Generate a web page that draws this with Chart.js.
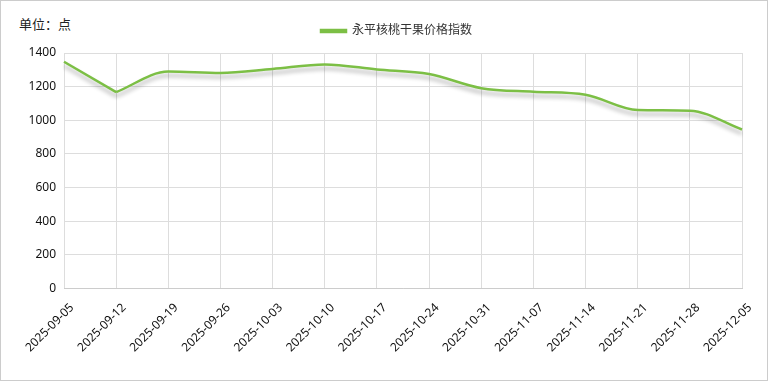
<!DOCTYPE html>
<html>
<head>
<meta charset="utf-8">
<script src="https://cdn.jsdelivr.net/npm/chart.js@4"></script>
<style>
  html, body { margin: 0; padding: 0; background: #fff; }
  #box { position: absolute; left: 0; top: 0; width: 766px; height: 379px; border: 1px solid #ccc; }
  #unit { position: absolute; left: 18px; top: 13px; font: 13px "Noto Sans CJK SC", sans-serif; color: #222; }
  #wrap { position: absolute; left: 0; top: 0; width: 766px; height: 379px; }
</style>
</head>
<body>
<div id="box">
  <div id="unit">单位：点</div>
  <div id="wrap"><canvas id="chart"></canvas></div>
</div>
<script>
// 数据
const categories = ['2025-09-05', '2025-09-12', '2025-09-19', '2025-09-26', '2025-10-03', '2025-10-10', '2025-10-17',
  '2025-10-24', '2025-10-31', '2025-11-07', '2025-11-14', '2025-11-21', '2025-11-28', '2025-12-05'];
const seriesName = '永平核桃干果价格指数';
const indexValues = [1348, 1167, 1290, 1281, 1305, 1332, 1302, 1275, 1191, 1170, 1152, 1061, 1057, 945];
const yTicks = [0, 200, 400, 600, 800, 1000, 1200, 1400];

const fontFamily = '"Noto Sans", "Noto Sans CJK SC", sans-serif';
const green = '#7cbf45';

// 第一段是直线，后面是平滑曲线
const firstPart = indexValues.map((v, i) => (i <= 1 ? v : null));
const restPart = indexValues.map((v, i) => (i >= 1 ? v : null));

// 折线阴影
const shadowPlugin = {
  id: 'lineShadow',
  beforeDatasetsDraw(chart) {
    const c = chart.ctx;
    c.save();
    c.shadowColor = 'rgba(0,0,0,0.3)';
    c.shadowBlur = 4;
    c.shadowOffsetY = 4;
  },
  afterDatasetsDraw(chart) {
    chart.ctx.restore();
  }
};

// 图例下方留白，并稍微右移
const legendGap = {
  id: 'legendGap',
  beforeInit(chart) {
    const fit = chart.legend.fit;
    chart.legend.fit = function() {
      fit.bind(chart.legend)();
      this.height += 6;
    };
  },
  afterLayout(chart) {
    chart.legend.left += 20;
    chart.legend.right += 20;
  }
};

const ctx = document.getElementById('chart').getContext('2d');
const chart = new Chart(ctx, {
  type: 'line',
  data: {
    labels: categories,
    datasets: [{
      label: seriesName,
      data: restPart,
      borderColor: green,
      backgroundColor: green,
      borderWidth: 2.5,
      pointRadius: 0,
      cubicInterpolationMode: 'monotone',
      fill: false
    }, {
      label: seriesName,
      data: firstPart,
      borderColor: green,
      backgroundColor: green,
      borderWidth: 2.5,
      pointRadius: 0,
      tension: 0,
      fill: false
    }]
  },
  options: {
    responsive: true,
    maintainAspectRatio: false,
    animation: false,
    layout: { padding: { left: 10, right: 25, top: 14, bottom: 13 } },
    plugins: {
      legend: {
        labels: {
          boxWidth: 25,
          boxHeight: 2,
          color: '#333',
          font: { family: fontFamily, size: 12 },
          padding: 10,
          filter: item => item.datasetIndex === 0
        }
      },
      tooltip: { enabled: false }
    },
    scales: {
      x: {
        grid: { color: '#ddd', drawTicks: false },
        border: { color: '#ccc' },
        ticks: {
          autoSkip: false,
          maxRotation: 45,
          minRotation: 45,
          padding: 12,
          labelOffset: 8,
          color: '#111',
          font: { family: fontFamily, size: 12 }
        }
      },
      y: {
        min: 0,
        max: 1400,
        afterBuildTicks(axis) {
          axis.ticks = yTicks.map(v => ({ value: v }));
        },
        afterFit(axis) { axis.width = 53; },
        grid: { color: '#ddd', drawTicks: false },
        border: { display: false },
        ticks: {
          padding: 8,
          color: '#111',
          font: { family: fontFamily, size: 12 },
          callback: v => String(v)
        }
      }
    }
  },
  plugins: [shadowPlugin, legendGap]
});
</script>
</body>
</html>
